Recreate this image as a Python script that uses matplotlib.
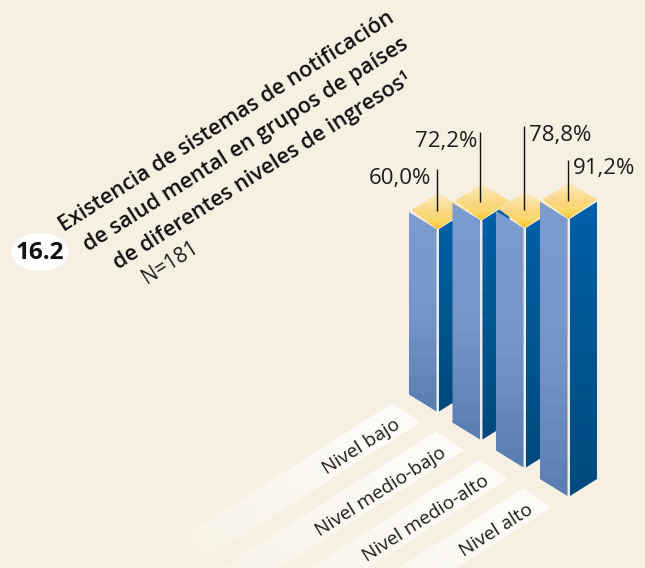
import numpy as np
import matplotlib
matplotlib.use("Agg")
import matplotlib.pyplot as plt
from matplotlib.patches import Polygon, Rectangle, Ellipse
from matplotlib.colors import to_rgb

# ---- data ----
categories = ["Nivel bajo", "Nivel medio-bajo", "Nivel medio-alto", "Nivel alto"]
values = [60.0, 72.2, 78.8, 91.2]
value_labels = ["60,0%", "72,2%", "78,8%", "91,2%"]
title_lines = ["Existencia de sistemas de notificación",
               "de salud mental en grupos de países",
               "de diferentes niveles de ingresos¹"]
note = "N=181"
badge = "16.2"

# ---- layout (pixels) ----
BG = "#f6f0e2"
W, H = 645, 568
PX_PER_UNIT = 3.04
ANGLE = 32.5
FONT = "Open Sans"
front_x = [436.5, 480, 523.5, 567.5]
base_y = [411.5, 439.5, 467.5, 496]
leader_rise = [60, 88, 102, 59]      # leader top above bar top
label_offsets = [(-5, 15), (-3, 15), (6, 15), (5, 14)]
label_ha = ["right", "right", "left", "left"]

fig = plt.figure(figsize=(W / 100, H / 100), dpi=100, facecolor=BG)
ax = fig.add_axes([0, 0, 1, 1])
ax.set_xlim(0, W)
ax.set_ylim(H, 0)
ax.axis("off")


def mix(a, b, t):
    a, b = np.array(to_rgb(a)), np.array(to_rgb(b))
    return tuple(a + (b - a) * t)


def banded(points, y0, y1, stops, n, z):
    clip = Polygon(points, closed=True, fc="none", ec="none", transform=ax.transData)
    ax.add_patch(clip)
    xs = [p[0] for p in points]
    edges = np.linspace(y0, y1, n + 1)
    for i in range(n):
        t = i / max(n - 1, 1)
        pos = [s[0] for s in stops]
        rgb = [np.interp(t, pos, [to_rgb(s[1])[c] for s in stops]) for c in range(3)]
        r = Rectangle((min(xs) - 1, edges[i]), max(xs) - min(xs) + 2, edges[i + 1] - edges[i] + 0.6,
                      fc=rgb, ec="none", lw=0, zorder=z, antialiased=False)
        ax.add_patch(r)
        r.set_clip_path(clip)


# label strips, fading out to the lower left
strip_len = [275, 300, 300, 300]
for i, cat in enumerate(categories):
    tx, ty = front_x[i] - 44, 403 + 28.4 * i
    rx, ry = tx + 28, ty + 19
    dx, dy = -np.cos(np.radians(ANGLE)), np.sin(np.radians(ANGLE))
    n = 30
    for s in range(n):
        a, b = strip_len[i] * s / n, strip_len[i] * (s + 1.05) / n
        t = min(1, max(0, (s / n - 0.15) / 0.85))
        col = mix("#fcfbf7", BG, t)
        ax.add_patch(Polygon([(tx + dx * a, ty + dy * a), (tx + dx * b, ty + dy * b),
                              (rx + dx * b, ry + dy * b), (rx + dx * a, ry + dy * a)],
                             closed=True, fc=col, ec="none", lw=0, zorder=1))

label_ends = [(401, 427), (447, 456), (490, 484), (534, 512)]
for cat, (x, y) in zip(categories, label_ends):
    ax.text(x, y, cat, rotation=ANGLE, rotation_mode="anchor", ha="right", va="baseline",
            fontsize=13.8, family=FONT, color="#1d1d1b", zorder=2)

# bars
left_stops = [(0, "#7b9bcf"), (0.5, "#7696ca"), (1, "#5b7eb3")]
right_stops = [(0, "#005fa8"), (0.5, "#00568f"), (1, "#00497f")]
top_stops = [(0, "#fde9ba"), (0.55, "#f9d67e"), (0.75, "#f8d970"), (1, "#fdc82f")]
for i, v in enumerate(values):
    xf, yb = front_x[i], base_y[i]
    yt = yb - v * PX_PER_UNIT
    n = max(int(round((yb - yt) / 17)), 2)
    left = [(xf - 27.5, yt - 17), (xf, yt), (xf, yb), (xf - 27.5, yb - 17)]
    right = [(xf + 2.5, yt), (xf + 29.5, yt - 17), (xf + 29.5, yb - 17), (xf + 2.5, yb)]
    z = 3 + i * 2
    ax.add_patch(Polygon([(xf, yt), (xf + 2.5, yt), (xf + 2.5, yb), (xf, yb + 0.5)],
                         closed=True, fc="#e9ecf2", ec="none", lw=0, zorder=z))
    banded(left, yt - 17, yb, left_stops, n, z)
    banded(right, yt - 17, yb, right_stops, n, z)
    top = [(xf - 25, yt - 19), (xf + 2, yt - 36), (xf + 29.5, yt - 19), (xf + 1, yt)]
    banded(top, yt - 36, yt, top_stops, 12, z + 1)
    ax.plot([xf, xf], [yt - leader_rise[i], yt - 18], color="#111111", lw=1.0, zorder=20,
            solid_capstyle="butt")
    ox, oy = label_offsets[i]
    ax.text(xf + ox, yt - leader_rise[i] + oy, value_labels[i], ha=label_ha[i], va="baseline",
            fontsize=16, family=FONT, color="#1d1d1b", zorder=21)

# title block
title_starts = [(64, 232), (88, 252), (118, 269.5)]
for line, (x, y) in zip(title_lines, title_starts):
    ax.text(x, y, line, rotation=ANGLE, rotation_mode="anchor", ha="left", va="baseline",
            fontsize=15.6, family=FONT, weight="semibold", color="#111111")
ax.text(147, 284, note, rotation=ANGLE, rotation_mode="anchor", ha="left", va="baseline",
        fontsize=14.8, family=FONT, color="#1d1d1b")

ax.add_patch(Ellipse((40, 252), 58, 38, fc="white", ec="none"))
ax.text(40, 253, badge, ha="center", va="center", fontsize=17.5, family=FONT, weight="bold",
        color="#111111")

fig.savefig("out.png", dpi=100, facecolor=BG)
